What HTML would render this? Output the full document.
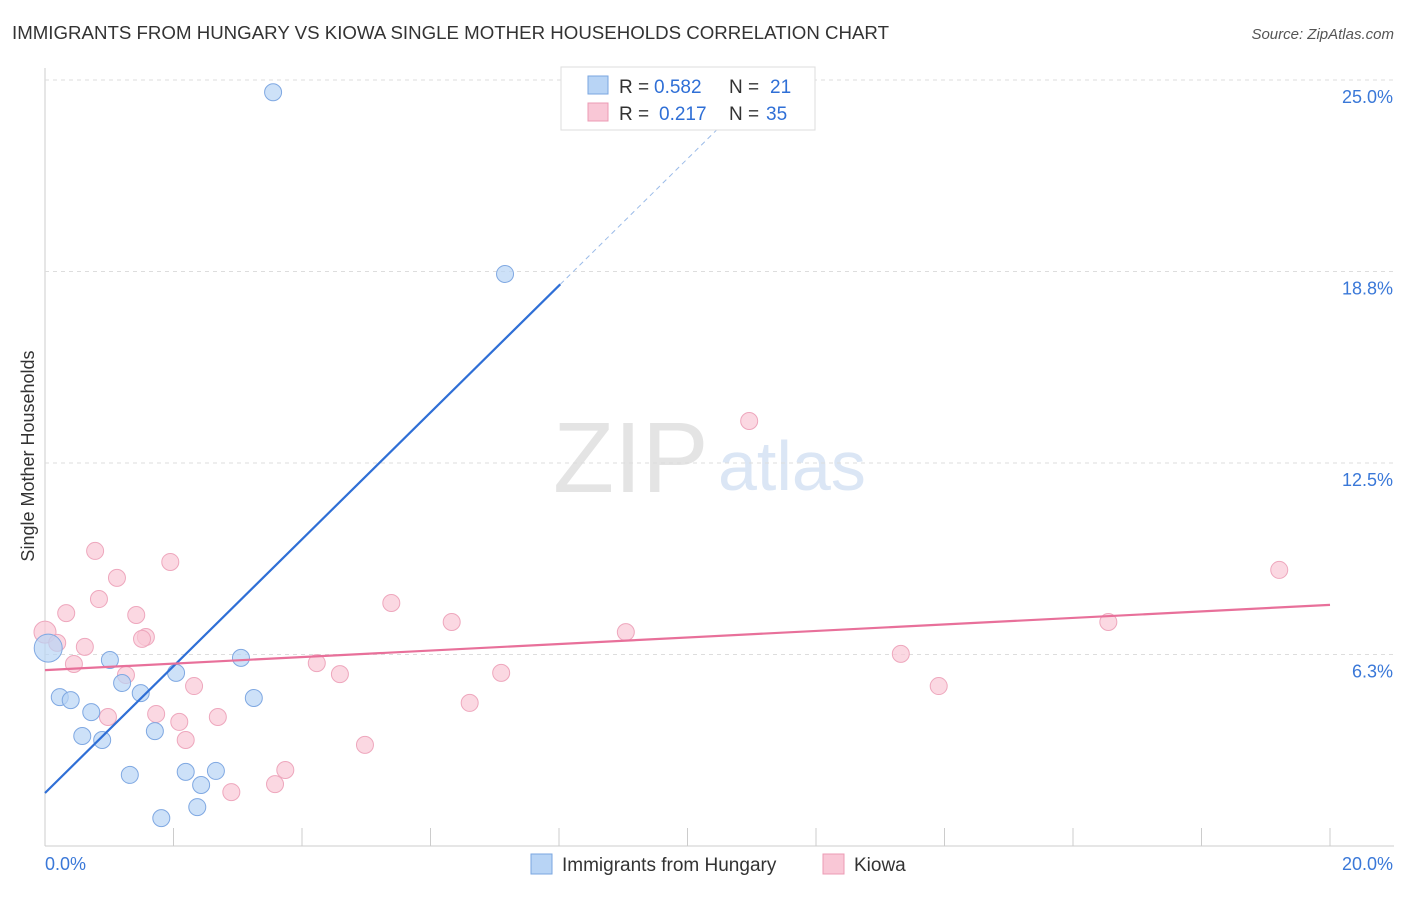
<!DOCTYPE html>
<html><head><meta charset="utf-8"><style>
body{margin:0;background:#fff;font-family:"Liberation Sans",sans-serif;}
svg text{font-family:"Liberation Sans",sans-serif;}
</style></head><body>
<svg id="c" width="1406" height="892">
<text x="12" y="39" font-size="18" fill="#333" textLength="877" lengthAdjust="spacingAndGlyphs">IMMIGRANTS FROM HUNGARY VS KIOWA SINGLE MOTHER HOUSEHOLDS CORRELATION CHART</text>
<text x="1394" y="39" font-size="15" fill="#555" font-style="italic" text-anchor="end">Source: ZipAtlas.com</text>
<text x="0" y="0" font-size="18" fill="#333" transform="translate(34,456) rotate(-90)" text-anchor="middle">Single Mother Households</text>
<text x="553" y="492" font-size="100" fill="#e4e4e4" font-family="Liberation Serif">ZIP</text>
<text x="718" y="490" font-size="70" fill="#dbe6f5">atlas</text>
<g id="grid"></g><g id="marks"></g>
<g>
<rect x="561" y="67" width="254" height="63" fill="#fff" stroke="#ddd"/>
<rect x="588" y="76" width="20" height="18" fill="#b8d4f5" stroke="#7aa6e0"/>
<rect x="588" y="103" width="20" height="18" fill="#f9c7d6" stroke="#ec9bb4"/>
<text x="619" y="93" font-size="19" fill="#333">R =</text>
<text x="654" y="93" font-size="19" fill="#2f6fd6">0.582</text>
<text x="729" y="93" font-size="19" fill="#333">N =</text>
<text x="770" y="93" font-size="19" fill="#2f6fd6">21</text>
<text x="619" y="120" font-size="19" fill="#333">R =</text>
<text x="659" y="120" font-size="19" fill="#2f6fd6">0.217</text>
<text x="729" y="120" font-size="19" fill="#333">N =</text>
<text x="766" y="120" font-size="19" fill="#2f6fd6">35</text>
</g>
<g>
<rect x="531" y="854" width="21" height="20" fill="#b8d4f5" stroke="#7aa6e0"/>
<text x="562" y="871" font-size="19" fill="#333">Immigrants from Hungary</text>
<rect x="823" y="854" width="21" height="20" fill="#f9c7d6" stroke="#ec9bb4"/>
<text x="854" y="871" font-size="19" fill="#333">Kiowa</text>
</g>
</svg>
<script>
const xTicks=[0,20];
const yTicks=[6.25,12.5,18.75,25];
const yTickLabels=["6.3%","12.5%","18.8%","25.0%"];
const blueX=[3.55,7.16,0.05,1.01,1.2,0.23,0.4,0.72,1.49,2.04,3.05,3.25,0.58,0.89,1.71,1.32,2.19,2.66,2.43,2.37,1.81];
const blueY=[24.6,18.67,6.46,6.07,5.32,4.86,4.76,4.37,4.99,5.65,6.14,4.83,3.59,3.46,3.75,2.32,2.42,2.45,1.99,1.27,0.91];
const pinkX=[0,0.19,0.33,0.78,1.12,0.84,0.62,0.45,1.42,1.57,1.51,1.95,1.26,0.98,1.73,2.09,2.19,2.32,2.69,2.9,3.58,3.74,4.23,4.59,4.98,5.39,6.33,6.61,7.1,9.04,10.96,13.32,13.91,16.55,19.21];
const pinkY=[6.98,6.63,7.6,9.63,8.75,8.06,6.5,5.94,7.54,6.82,6.76,9.27,5.58,4.21,4.31,4.05,3.46,5.22,4.21,1.76,2.02,2.48,5.97,5.61,3.3,7.93,7.31,4.67,5.65,6.98,13.87,6.27,5.22,7.31,9.01];
const blueLine=[1.73,2.07];
const pinkLine=[5.74,0.1065];
const X=v=>45+v/20*1285, Y=v=>846-v*30.64;
const NS="http://www.w3.org/2000/svg";
function mk(t,a,p){const e=document.createElementNS(NS,t);for(const k in a)e.setAttribute(k,a[k]);p.appendChild(e);return e;}
const g=document.getElementById('grid'),m=document.getElementById('marks');
let ax=mk('line',{x1:45,y1:68,x2:45,y2:846,stroke:'#ccc'},g);


let bx=mk('line',{x1:45,y1:846,x2:1394,y2:846,stroke:'#ccc'},g);


for(let i=1;i<=10;i++){let t=mk('line',{x1:45+i*128.5,y1:828,x2:45+i*128.5,y2:846,stroke:'#ccc'},g);

}
yTicks.forEach((v,i)=>{let l=mk('line',{x1:45,y1:Y(v),x2:1394,y2:Y(v),stroke:'#ddd','stroke-dasharray':'4,4'},g);


let t=mk('text',{x:1393,y:Y(v)+23,'font-size':18,fill:'#3a78d8','text-anchor':'end'},g);t.textContent=yTickLabels[i];

});
xTicks.forEach(v=>{let t=mk('text',{x:v==0?45:1393,y:870,'font-size':18,fill:'#3a78d8','text-anchor':v==0?'start':'end'},g);t.textContent=v.toFixed(1)+'%';

});
function dots(xs,ys,f,s,n,big){xs.forEach((x,i)=>{let r=(x<0.1)?big:8.5;let c=mk('circle',{cx:X(x),cy:Y(ys[i]),r:r,fill:f,stroke:s,'fill-opacity':0.7},m);

});}
dots(pinkX,pinkY,'#f9c7d6','#eea7bd','kiowa-point',11);
dots(blueX,blueY,'#b8d4f5','#7fa8e2','hungary-point',14);
let x2=8.02,x3=11.0;
let b1=mk('line',{x1:X(0),y1:Y(blueLine[0]),x2:X(x2),y2:Y(blueLine[0]+blueLine[1]*x2),stroke:'#2f6fd6','stroke-width':2.2},m);


let b2=mk('line',{x1:X(x2),y1:Y(blueLine[0]+blueLine[1]*x2),x2:X(x3),y2:Y(blueLine[0]+blueLine[1]*x3),stroke:'#9bbbe8','stroke-width':1,'stroke-dasharray':'5,4'},m);


let p1=mk('line',{x1:X(0),y1:Y(pinkLine[0]),x2:X(20),y2:Y(pinkLine[0]+pinkLine[1]*20),stroke:'#e8709a','stroke-width':2.2},m);


</script>
</body></html>
